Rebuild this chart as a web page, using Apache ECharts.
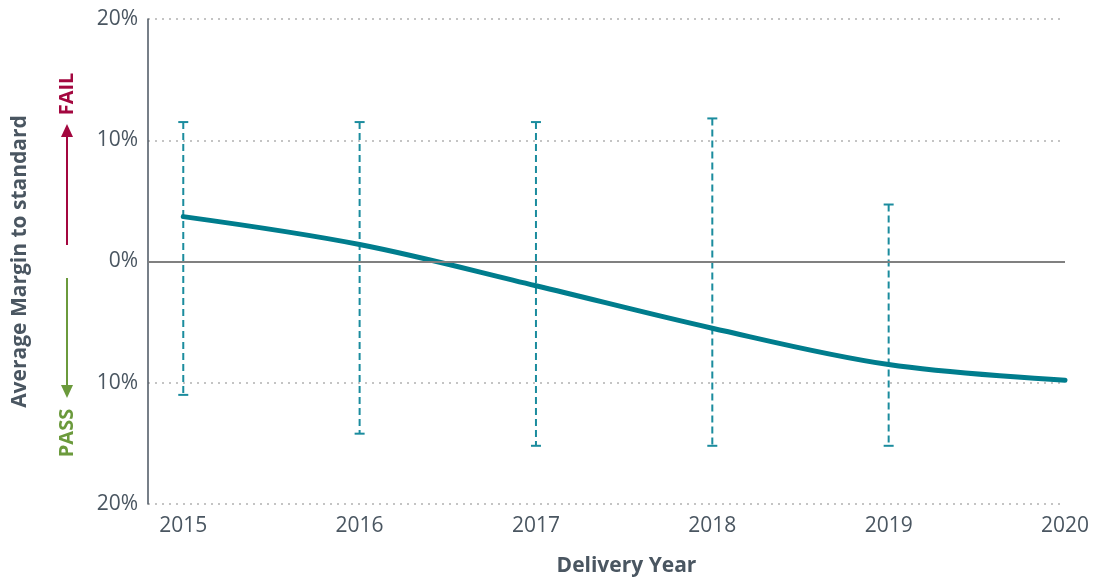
<!DOCTYPE html>
<html>
<head>
<meta charset="utf-8">
<script src="https://cdn.jsdelivr.net/npm/echarts@6/dist/echarts.min.js"></script>
<style>
  html, body { margin: 0; padding: 0; background: #fff; }
  #main { width: 1093px; height: 577px; }
</style>
</head>
<body>
<div id="main"></div>
<script>
// data
var years = [2015, 2016, 2017, 2018, 2019, 2020];
var avgMargin = [3.7, 1.4, -2.0, -5.5, -8.5, -9.8];
var rangeYears = [2015, 2016, 2017, 2018, 2019];
var rangeHigh = [11.5, 11.5, 11.5, 11.8, 4.7];
var rangeLow = [-11.0, -14.2, -15.2, -15.2, -15.2];

var textCol = '#4a5661';
var fontFam = '"Open Sans", sans-serif';

var lineData = [];
for (var i = 0; i < years.length; i++) {
	lineData.push([years[i], avgMargin[i]]);
}
var barData = [];
for (var j = 0; j < rangeYears.length; j++) {
	barData.push([rangeYears[j], rangeLow[j], rangeHigh[j]]);
}

function renderRange(params, api) {
	var x = api.value(0);
	var lo = api.coord([x, api.value(1)]);
	var hi = api.coord([x, api.value(2)]);
	var half = 5;
	var col = '#1b8c9e';
	return {
		type: 'group',
		children: [
			{ type: 'line', shape: { x1: hi[0], y1: hi[1], x2: lo[0], y2: lo[1] },
			  style: { stroke: col, lineWidth: 2, lineDash: [7, 4] } },
			{ type: 'line', shape: { x1: hi[0] - half, y1: hi[1], x2: hi[0] + half, y2: hi[1] },
			  style: { stroke: col, lineWidth: 2 } },
			{ type: 'line', shape: { x1: lo[0] - half, y1: lo[1], x2: lo[0] + half, y2: lo[1] },
			  style: { stroke: col, lineWidth: 2 } }
		]
	};
}

var chart = echarts.init(document.getElementById('main'));
var option = {
	animation: false,
	grid: { left: 148, right: 28, top: 19, bottom: 73, containLabel: false, outerBoundsMode: 'none' },
	xAxis: {
		type: 'value',
		min: 2014.8,
		max: 2020,
		name: 'Delivery Year',
		nameLocation: 'middle',
		nameGap: 52,
		nameTextStyle: { color: textCol, fontSize: 21, fontWeight: 'bold', fontFamily: fontFam, padding: [0, 0, 0, 40] },
		axisLine: { show: false },
		axisTick: { show: false },
		splitLine: { show: false },
		axisLabel: {
			customValues: years,
			color: textCol, fontSize: 21, fontFamily: fontFam, margin: 12,
			formatter: function (v) { return String(v); }
		}
	},
	yAxis: {
		type: 'value',
		min: -20,
		max: 20,
		interval: 10,
		name: 'Average Margin to standard',
		nameLocation: 'middle',
		nameGap: 117,
		nameTextStyle: { color: textCol, fontSize: 21, fontWeight: 'bold', fontFamily: fontFam },
		axisLine: { show: true, lineStyle: { color: '#4a5560', width: 1.5 } },
		axisTick: { show: false },
		axisLabel: {
			color: textCol, fontSize: 21, fontFamily: fontFam, margin: 10,
			formatter: function (v) { return Math.abs(v) + '%'; }
		},
		splitLine: { show: true, lineStyle: { color: '#c4c4c4', type: [2, 5], width: 2 } }
	},
	graphic: [
		{ type: 'line', shape: { x1: 67, y1: 245, x2: 67, y2: 134 }, style: { stroke: '#a3073f', lineWidth: 2 } },
		{ type: 'polygon', shape: { points: [[67, 124], [61, 137], [73, 137]] }, style: { fill: '#a3073f' } },
		{ type: 'text', x: 67, y: 94, rotation: Math.PI / 2,
		  style: { text: 'FAIL', fill: '#a3073f', font: 'bold 20px "Open Sans", sans-serif', align: 'center', verticalAlign: 'middle' } },
		{ type: 'line', shape: { x1: 67, y1: 278, x2: 67, y2: 388 }, style: { stroke: '#6b9a3c', lineWidth: 2 } },
		{ type: 'polygon', shape: { points: [[67, 398], [61, 385], [73, 385]] }, style: { fill: '#6b9a3c' } },
		{ type: 'text', x: 67, y: 433, rotation: Math.PI / 2,
		  style: { text: 'PASS', fill: '#6b9a3c', font: 'bold 20px "Open Sans", sans-serif', align: 'center', verticalAlign: 'middle' } }
	],
	series: [
		{
			type: 'custom',
			renderItem: renderRange,
			data: barData,
			z: 3
		},
		{
			type: 'line',
			data: lineData,
			smooth: 0.35,
			symbol: 'none',
			lineStyle: { color: '#007d8d', width: 5, cap: 'round' },
			z: 4,
			markLine: {
				silent: true,
				symbol: 'none',
				label: { show: false },
				lineStyle: { color: '#808080', type: 'solid', width: 2 },
				data: [{ yAxis: 0 }]
			}
		}
	]
};
chart.setOption(option);
</script>
</body>
</html>
